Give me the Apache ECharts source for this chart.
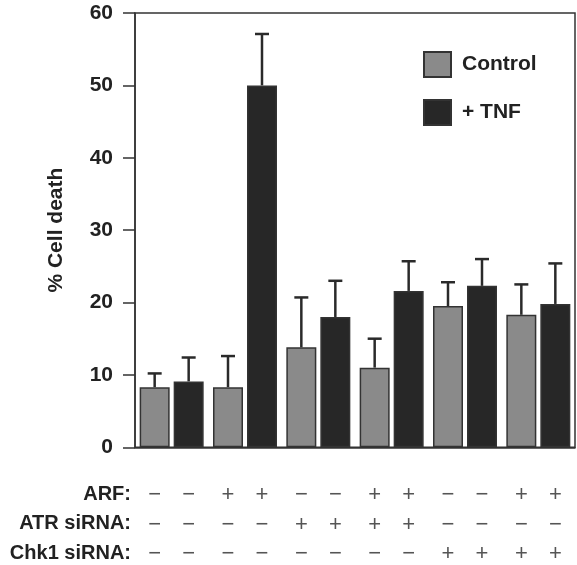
<!DOCTYPE html>
<html><head><meta charset="utf-8">
<script src="https://cdn.jsdelivr.net/npm/echarts@6/dist/echarts.min.js"></script>
<style>html,body{margin:0;padding:0;background:#fff}#c{width:577px;height:565px}</style>
</head><body><div id="c"></div>
<script>
const groups = ['g1', 'g2', 'g3', 'g4', 'g5', 'g6'];
const seriesNames = ['Control', '+ TNF'];
const controlValues = [8.3, 8.3, 13.8, 11.0, 19.5, 18.3];
const tnfValues = [9.1, 50.0, 18.0, 21.6, 22.3, 19.8];
const controlErrors = [1.9, 4.3, 6.9, 4.0, 3.3, 4.2];
const tnfErrors = [3.3, 7.1, 5.0, 4.1, 3.7, 5.6];
const yMin = 0, yMax = 60, yStep = 10;
const yName = '% Cell death';
const rowLabels = ['ARF:', 'ATR siRNA:', 'Chk1 siRNA:'];
const arfSigns = ['−','−','+','+','−','−','+','+','−','−','+','+'];
const atrSigns = ['−','−','−','−','+','+','+','+','−','−','−','−'];
const chk1Signs = ['−','−','−','−','−','−','−','−','+','+','+','+'];
const signRows = [arfSigns, atrSigns, chk1Signs];

const FONT = '"Liberation Sans", Arial, Helvetica, sans-serif';
const chart = echarts.init(document.getElementById('c'), null, {renderer: 'canvas'});

const BAR_W = 30, BAR_GAP = 4;
function errRenderer(offset) {
  return function (params, api) {
    const idx = api.value(0);
    const x = api.coord([idx, 0])[0] + offset;
    const yBase = api.coord([idx, api.value(1)])[1];
    const yTop = api.coord([idx, api.value(1) + api.value(2)])[1];
    const st = {stroke: '#2a2a2a', lineWidth: 2.5};
    return {type: 'group', children: [
      {type: 'line', shape: {x1: x, y1: yBase, x2: x, y2: yTop}, style: st},
      {type: 'line', shape: {x1: x - 7, y1: yTop, x2: x + 7, y2: yTop}, style: st}
    ]};
  };
}
const half = (BAR_W + BAR_GAP) / 2;

const option = {
  animation: false,
  backgroundColor: '#fff',
  grid: {left: 135, right: 2, top: 13, bottom: 117, show: true, borderColor: '#333', borderWidth: 1.5, backgroundColor: 'transparent'},
  legend: {
    data: seriesNames,
    orient: 'vertical', left: 423, top: 51, padding: 0,
    icon: 'rect',
    itemWidth: 27, itemHeight: 25, itemGap: 21,
    textStyle: {fontFamily: FONT, fontSize: 21, fontWeight: 'bold', color: '#222', padding: [0, 0, 0, 6]}
  },
  xAxis: {
    type: 'category', data: groups,
    axisLine: {show: true, lineStyle: {color: '#333', width: 1.5}},
    axisTick: {show: false},
    axisLabel: {
      interval: 0, margin: 33,
      formatter: function (v, i) {
        return signRows.map(r => '{s|' + r[2 * i] + '}{s|' + r[2 * i + 1] + '}').join('\n');
      },
      rich: {s: {width: 34, align: 'center', fontSize: 22, lineHeight: 29.5, color: '#555', fontFamily: FONT}}
    }
  },
  yAxis: {
    type: 'value', min: yMin, max: yMax, interval: yStep,
    name: yName, nameLocation: 'middle', nameGap: 68, nameRotate: 90,
    nameTextStyle: {fontFamily: FONT, fontSize: 21, fontWeight: 'bold', color: '#222'},
    axisLine: {show: true, lineStyle: {color: '#333', width: 1.5}},
    axisTick: {show: true, length: 12, lineStyle: {color: '#333', width: 1.5}},
    axisLabel: {margin: 22, fontFamily: FONT, fontSize: 21, fontWeight: 'bold', color: '#222'},
    splitLine: {show: false}
  },
  graphic: rowLabels.map((t, k) => ({
    type: 'text', right: 577 - 131, top: 484 + k * 29.5,
    style: {text: t, fontFamily: FONT, fontSize: 20, fontWeight: 'bold', fill: '#222', textAlign: 'right'}
  })),
  series: [
    {name: seriesNames[0], type: 'bar', data: controlValues, barWidth: BAR_W, barGap: (BAR_GAP / BAR_W * 100) + '%',
     itemStyle: {color: '#8a8a8a', borderColor: '#333', borderWidth: 1.5}},
    {name: seriesNames[1], type: 'bar', data: tnfValues, barWidth: BAR_W,
     itemStyle: {color: '#272727', borderColor: '#333', borderWidth: 1.5}},
    {type: 'custom', z: 3, renderItem: errRenderer(-half),
     data: controlValues.map((v, i) => [i, v, controlErrors[i]])},
    {type: 'custom', z: 3, renderItem: errRenderer(half),
     data: tnfValues.map((v, i) => [i, v, tnfErrors[i]])}
  ]
};
chart.setOption(option);
</script></body></html>
